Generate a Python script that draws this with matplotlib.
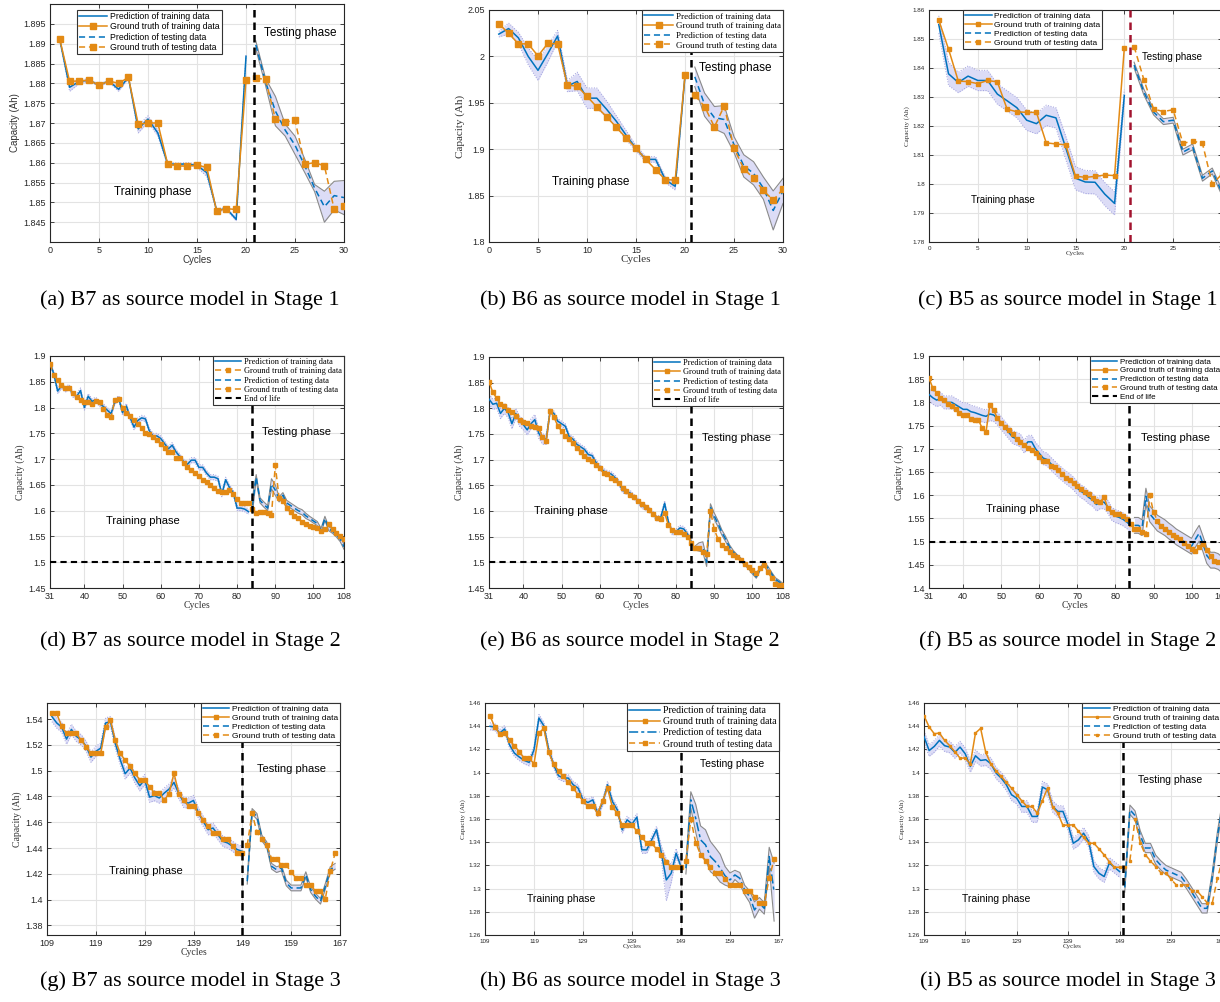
import numpy as np
import matplotlib
matplotlib.use('Agg')
import matplotlib.pyplot as plt
from matplotlib.ticker import FixedLocator, FuncFormatter

# ---------------- data ----------------
# Stage 1 : cycles 1..20 train, 21..30 test
s1_train_cycles = np.arange(1, 21)
s1_test_cycles = np.arange(21, 31)

a_gt_train = [1.8911, 1.8805, 1.8806, 1.8808, 1.8795, 1.8806, 1.8800, 1.8815, 1.8697, 1.8700,
              1.8700, 1.8597, 1.8592, 1.8591, 1.8594, 1.8588, 1.8478, 1.8484, 1.8482, 1.8808]
a_pred_train = [1.8910, 1.8790, 1.8805, 1.8808, 1.8795, 1.8806, 1.8785, 1.8815, 1.8685, 1.8710,
                1.8675, 1.8597, 1.8596, 1.8597, 1.8593, 1.8575, 1.8480, 1.8484, 1.8457, 1.8868]
a_hw_train = [0.0003, 0.0010, 0.0005, 0.0003, 0.0003, 0.0003, 0.0005, 0.0003, 0.0010, 0.0008,
              0.0008, 0.0004, 0.0003, 0.0003, 0.0005, 0.0010, 0.0004, 0.0003, 0.0004, 0.0004]
a_gt_test = [1.8813, 1.8810, 1.8710, 1.8702, 1.8707, 1.8596, 1.8600, 1.8592, 1.8482, 1.8492]
a_pred_test = [1.8897, 1.8803, 1.8730, 1.8682, 1.8644, 1.8592, 1.8536, 1.8489, 1.8517, 1.8512]
a_hw_test = [0.0010, 0.0009, 0.0037, 0.0015, 0.0023, 0.0017, 0.0009, 0.0039, 0.0036, 0.0043]

b_gt_train = [2.035, 2.025, 2.0135, 2.0135, 2.0005, 2.014, 2.0135, 1.969, 1.968, 1.957,
              1.9455, 1.935, 1.9235, 1.912, 1.901, 1.889, 1.878, 1.867, 1.867, 1.980]
b_pred_train = [2.024, 2.030, 2.020, 2.000, 1.985, 2.003, 2.022, 1.968, 1.973, 1.955,
                1.955, 1.943, 1.930, 1.915, 1.901, 1.889, 1.889, 1.867, 1.860, 1.979]
b_hw_train = [0.003, 0.006, 0.006, 0.009, 0.011, 0.009, 0.006, 0.006, 0.010, 0.011,
              0.011, 0.009, 0.006, 0.005, 0.003, 0.003, 0.003, 0.003, 0.004, 0.002]
b_gt_test = [1.958, 1.946, 1.924, 1.9465, 1.901, 1.879, 1.8685, 1.8555, 1.845, 1.857]
b_pred_test = [1.978, 1.948, 1.934, 1.932, 1.905, 1.882, 1.874, 1.858, 1.834, 1.855]
b_hw_test = [0.0105, 0.0125, 0.012, 0.015, 0.0085, 0.012, 0.0125, 0.012, 0.021, 0.0135]

c_gt_train = [1.8565, 1.8465, 1.8355, 1.8353, 1.8346, 1.8357, 1.8352, 1.8258, 1.8249, 1.8247,
              1.8247, 1.8142, 1.8138, 1.8135, 1.8027, 1.8023, 1.8026, 1.8031, 1.8029, 1.8470]
c_pred_train = [1.8550, 1.8380, 1.8350, 1.8372, 1.8357, 1.8357, 1.8310, 1.8287, 1.8263, 1.8220,
                1.8208, 1.8237, 1.8228, 1.8125, 1.8020, 1.8007, 1.8006, 1.7965, 1.7933, 1.8305]
c_hw_train = [0.003, 0.004, 0.0035, 0.0035, 0.0035, 0.0035, 0.0035, 0.0035, 0.0035, 0.0035,
              0.0035, 0.0035, 0.0035, 0.004, 0.004, 0.004, 0.004, 0.004, 0.004, 0.002]
c_gt_test = [1.8474, 1.8360, 1.8258, 1.8250, 1.8256, 1.8140, 1.8148, 1.8140, 1.8000, 1.8034]
c_pred_test = [1.8410, 1.8317, 1.8248, 1.8215, 1.8220, 1.8110, 1.8128, 1.8020, 1.8045, 1.7970]
c_hw_test = 0.001

# Stage 2
d_train_cycles = np.arange(31, 84)
d_test_cycles = np.arange(84, 109)
d_gt_train = [1.885, 1.864, 1.853, 1.843, 1.838, 1.838, 1.829, 1.820, 1.815, 1.810,
              1.811, 1.806, 1.813, 1.810, 1.798, 1.786, 1.781, 1.815, 1.816, 1.800,
              1.790, 1.784, 1.776, 1.768, 1.760, 1.750, 1.749, 1.743, 1.738, 1.729,
              1.722, 1.714, 1.714, 1.703, 1.703, 1.693, 1.685, 1.679, 1.673, 1.667,
              1.660, 1.655, 1.649, 1.643, 1.639, 1.636, 1.637, 1.640, 1.632, 1.622,
              1.615, 1.615, 1.615]
d_pred_train = [1.887, 1.865, 1.832, 1.842, 1.835, 1.840, 1.825, 1.822, 1.833, 1.800,
                1.822, 1.812, 1.815, 1.807, 1.802, 1.795, 1.788, 1.812, 1.818, 1.790,
                1.803, 1.780, 1.762, 1.775, 1.780, 1.778, 1.755, 1.745, 1.745, 1.740,
                1.730, 1.720, 1.727, 1.714, 1.705, 1.695, 1.690, 1.698, 1.698, 1.684,
                1.684, 1.673, 1.665, 1.665, 1.662, 1.632, 1.660, 1.645, 1.635, 1.605,
                1.605, 1.603, 1.598]
d_hw_train = 0.005
d_gt_test = [1.603, 1.596, 1.597, 1.597, 1.596, 1.591, 1.688, 1.625, 1.619, 1.605,
             1.597, 1.590, 1.585, 1.578, 1.575, 1.570, 1.569, 1.566, 1.560, 1.565,
             1.574, 1.564, 1.556, 1.550, 1.545]
d_pred_test = [1.610, 1.665, 1.620, 1.612, 1.605, 1.652, 1.640, 1.622, 1.630, 1.615,
               1.610, 1.605, 1.600, 1.597, 1.590, 1.585, 1.580, 1.575, 1.562, 1.585,
               1.565, 1.560, 1.553, 1.545, 1.530]
d_hw_test = [0.015, 0.005, 0.005, 0.005, 0.005, 0.010, 0.010, 0.005, 0.005, 0.005,
             0.005, 0.005, 0.005, 0.005, 0.005, 0.004, 0.004, 0.004, 0.004, 0.004,
             0.004, 0.004, 0.004, 0.005, 0.005]

ef_train_cycles = np.arange(31, 85)
ef_test_cycles = np.arange(85, 109)
ef_gt_train = [1.852, 1.831, 1.820, 1.809, 1.805, 1.797, 1.792, 1.785, 1.777, 1.773,
               1.772, 1.765, 1.763, 1.762, 1.744, 1.737, 1.795, 1.783, 1.766, 1.756,
               1.747, 1.740, 1.732, 1.722, 1.715, 1.708, 1.702, 1.698, 1.690, 1.683,
               1.674, 1.673, 1.664, 1.660, 1.654, 1.645, 1.638, 1.632, 1.627, 1.620,
               1.613, 1.607, 1.602, 1.594, 1.587, 1.585, 1.596, 1.572, 1.563, 1.560,
               1.560, 1.555, 1.549, 1.538]
ef_gt_test = [1.528, 1.527, 1.520, 1.516, 1.600, 1.564, 1.545, 1.533, 1.527, 1.521,
              1.515, 1.510, 1.505, 1.497, 1.490, 1.485, 1.479, 1.488, 1.495, 1.481,
              1.470, 1.458, 1.455, 1.456]

e_pred_train = [1.818, 1.808, 1.810, 1.790, 1.800, 1.792, 1.770, 1.790, 1.775, 1.768,
                1.758, 1.770, 1.778, 1.752, 1.740, 1.740, 1.795, 1.790, 1.775, 1.770,
                1.765, 1.745, 1.740, 1.730, 1.725, 1.720, 1.710, 1.708, 1.695, 1.685,
                1.678, 1.674, 1.672, 1.665, 1.655, 1.640, 1.638, 1.635, 1.627, 1.620,
                1.610, 1.607, 1.602, 1.594, 1.585, 1.588, 1.615, 1.578, 1.558, 1.560,
                1.567, 1.565, 1.555, 1.540]
e_hw_train = [0.010] * 16 + [0.005] * 38
e_pred_test = [1.528, 1.530, 1.530, 1.500, 1.608, 1.590, 1.575, 1.558, 1.545, 1.530,
               1.520, 1.512, 1.505, 1.497, 1.490, 1.480, 1.472, 1.487, 1.497, 1.490,
               1.478, 1.467, 1.462, 1.456]
e_hw_test = [0.004, 0.008, 0.010, 0.008, 0.006, 0.006, 0.006, 0.005, 0.005, 0.004,
             0.003, 0.003, 0.003, 0.003, 0.003, 0.003, 0.003, 0.003, 0.003, 0.003,
             0.003, 0.003, 0.003, 0.003]

f_pred_train = [1.817, 1.810, 1.805, 1.808, 1.800, 1.800, 1.800, 1.795, 1.790, 1.785,
                1.785, 1.780, 1.778, 1.775, 1.772, 1.770, 1.775, 1.773, 1.765, 1.755,
                1.745, 1.735, 1.725, 1.722, 1.718, 1.705, 1.715, 1.715, 1.700, 1.690,
                1.680, 1.677, 1.668, 1.660, 1.652, 1.645, 1.638, 1.632, 1.625, 1.615,
                1.608, 1.603, 1.595, 1.590, 1.580, 1.585, 1.585, 1.575, 1.560, 1.555,
                1.552, 1.548, 1.542, 1.535]
f_hw_train = 0.014
f_pred_test = [1.535, 1.535, 1.530, 1.598, 1.560, 1.550, 1.540, 1.535, 1.530, 1.523,
               1.517, 1.510, 1.505, 1.500, 1.495, 1.490, 1.505, 1.518, 1.495, 1.470,
               1.460, 1.460, 1.457, 1.450]
f_hw_test = 0.017

# Stage 3
s3_train_cycles = np.arange(110, 150)
s3_test_cycles = np.arange(150, 169)
g_gt_train = [1.5447, 1.5444, 1.5343, 1.5289, 1.5291, 1.5289, 1.5237, 1.5186, 1.5134, 1.5136,
              1.5136, 1.5338, 1.5390, 1.5235, 1.5134, 1.5080, 1.5033, 1.4979, 1.4930, 1.4930,
              1.4875, 1.4829, 1.4829, 1.4772, 1.4821, 1.4981, 1.4821, 1.4772, 1.4723, 1.4723,
              1.4671, 1.4620, 1.4568, 1.4516, 1.4516, 1.4467, 1.4467, 1.4413, 1.4364, 1.4364]
g_gt_test = [1.4421, 1.4671, 1.4521, 1.4470, 1.4421, 1.4317, 1.4317, 1.4266, 1.4266, 1.4214,
             1.4165, 1.4165, 1.4113, 1.4113, 1.4064, 1.4064, 1.4007, 1.4219, 1.4361]
g_pred_train = [1.5420, 1.5370, 1.5338, 1.5245, 1.5320, 1.5266, 1.5240, 1.5190, 1.5105, 1.5150,
                1.5175, 1.5370, 1.5380, 1.5210, 1.5085, 1.4976, 1.5020, 1.4943, 1.4883, 1.4930,
                1.4795, 1.4806, 1.4788, 1.4826, 1.4857, 1.4909, 1.4821, 1.4754, 1.4749, 1.4769,
                1.4671, 1.4607, 1.4542, 1.4555, 1.4503, 1.4452, 1.4439, 1.4413, 1.4387, 1.4374]
g_pred_test = [1.4142, 1.4684, 1.4645, 1.4477, 1.4426, 1.4258, 1.4232, 1.4245, 1.4129, 1.4090,
               1.4090, 1.4090, 1.4193, 1.4077, 1.4025, 1.3987, 1.4103, 1.4232, 1.4258]
g_hw_train = 0.004
g_hw_test = 0.0022

hi_gt_train = [1.4491, 1.4393, 1.4335, 1.4341, 1.4278, 1.4232, 1.4180, 1.4125, 1.4125, 1.4076,
               1.4341, 1.4381, 1.4174, 1.4073, 1.4016, 1.3967, 1.3915, 1.3866, 1.3809, 1.3757,
               1.3708, 1.3708, 1.3650, 1.3757, 1.3866, 1.3702, 1.3650, 1.3544, 1.3549, 1.3549,
               1.3495, 1.3443, 1.3391, 1.3391, 1.3342, 1.3290, 1.3233, 1.3184, 1.3184, 1.3184]
hi_gt_test = [1.3242, 1.3599, 1.3397, 1.3291, 1.3239, 1.3190, 1.3138, 1.3138, 1.3080, 1.3032,
              1.3032, 1.3032, 1.2983, 1.2983, 1.2931, 1.2879, 1.2873, 1.3089, 1.3253]

h_pred_train = [1.4399, 1.4393, 1.4341, 1.4376, 1.4240, 1.4168, 1.4134, 1.4105, 1.4088, 1.4197,
                1.4471, 1.4404, 1.4197, 1.4068, 1.3973, 1.3953, 1.3953, 1.3895, 1.3866, 1.3765,
                1.3742, 1.3765, 1.3645, 1.3742, 1.3895, 1.3751, 1.3679, 1.3506, 1.3593, 1.3558,
                1.3616, 1.3334, 1.3334, 1.3420, 1.3507, 1.3305, 1.3075, 1.3132, 1.3305, 1.3190]
h_hw_train = [0.003] * 35 + [0.006, 0.018, 0.008, 0.004, 0.003]
h_pred_test = [1.3176, 1.3765, 1.3607, 1.3420, 1.3377, 1.3276, 1.3233, 1.3176, 1.3110, 1.3075,
               1.3118, 1.3089, 1.2988, 1.2931, 1.2816, 1.2873, 1.2830, 1.3276, 1.2970]
h_hw_test = [0.005, 0.007, 0.012, 0.012, 0.013, 0.013, 0.012, 0.012, 0.008, 0.006,
             0.004, 0.005, 0.004, 0.005, 0.007, 0.005, 0.005, 0.008, 0.025]

i_train_cycles = np.arange(110, 149)
i_test_cycles = np.arange(149, 169)
i_pred_train = [1.4310, 1.4190, 1.4226, 1.4278, 1.4232, 1.4220, 1.4174, 1.4220, 1.4163, 1.4053,
                1.4145, 1.4105, 1.4111, 1.4076, 1.3996, 1.3953, 1.3895, 1.3809, 1.3780, 1.3708,
                1.3708, 1.3622, 1.3622, 1.3875, 1.3852, 1.3708, 1.3665, 1.3665, 1.3550, 1.3391,
                1.3420, 1.3478, 1.3406, 1.3190, 1.3132, 1.3104, 1.3219, 1.3184, 1.3147]
i_pred_test = [1.3010, 1.3680, 1.3630, 1.3460, 1.3350, 1.3350, 1.3250, 1.3200, 1.3160, 1.3140,
               1.3120, 1.3100, 1.3040, 1.2970, 1.2900, 1.2830, 1.2830, 1.3100, 1.3450, 1.3720]
i_hw_train = 0.005
i_hw_test = 0.004

s1_xticks = [0, 5, 10, 15, 20, 25, 30]
s2_xticks = [31, 40, 50, 60, 70, 80, 90, 100, 108]
s3_xtick_labels = ['109', '119', '129', '139', '149', '159', '167']

captions = ['(a) B7 as source model in Stage 1', '(b) B6 as source model in Stage 1',
            '(c) B5 as source model in Stage 1', '(d) B7 as source model in Stage 2',
            '(e) B6 as source model in Stage 2', '(f) B5 as source model in Stage 2',
            '(g) B7 as source model in Stage 3', '(h) B6 as source model in Stage 3',
            '(i) B5 as source model in Stage 3']

legend_labels = ['Prediction of training data', 'Ground truth of training data',
                 'Prediction of testing data', 'Ground truth of testing data', 'End of life']

# ---------------- styling ----------------
BLUE = '#0072BD'
ORANGE = '#E38A14'
BAND = '#DCDCF6'
BANDEDGE = '#9C9CDC'
SANS = 'Liberation Sans'
SERIF = 'Liberation Serif'

W, H = 1220, 1002
fig = plt.figure(figsize=(W / 100, H / 100), dpi=100)


def fmt(v, pos):
    return ('%.4f' % v).rstrip('0').rstrip('.')


def add_ax(l, r, t, b):
    return fig.add_axes([l / W, 1 - b / H, (r - l) / W, (b - t) / H])


def draw(p):
    ax = add_ax(*p['box'])
    ax.set_xlim(*p['xlim'])
    ax.set_ylim(*p['ylim'])
    ct, cs = np.asarray(p['ctr']), np.asarray(p['cte'])
    gct = np.asarray(p.get('gctr', ct))
    gcs = np.asarray(p.get('gcte', cs))
    ptr, pte = np.asarray(p['ptr']), np.asarray(p['pte'])
    htr = np.broadcast_to(np.asarray(p['htr'], float), ptr.shape)
    hte = np.broadcast_to(np.asarray(p['hte'], float), pte.shape)
    # bands
    ax.fill_between(ct, ptr - htr, ptr + htr, color=BAND, lw=0, zorder=1)
    ax.plot(ct, ptr - htr, ':', color=BANDEDGE, lw=0.7, zorder=1.5)
    ax.plot(ct, ptr + htr, ':', color=BANDEDGE, lw=0.7, zorder=1.5)
    ax.fill_between(cs, pte - hte, pte + hte, color=BAND, lw=0, zorder=1)
    ax.plot(cs, pte - hte, '-', color='#8a8a8a', lw=0.8, zorder=1.5)
    ax.plot(cs, pte + hte, '-', color='#8a8a8a', lw=0.8, zorder=1.5)
    ms = p['ms']
    h1, = ax.plot(ct, ptr, '-', color=BLUE, lw=1.1, zorder=3)
    h3, = ax.plot(cs, pte, ls=p.get('pte_ls', (0, (4, 2.5))), color=BLUE, lw=1.1, zorder=3)
    h2, = ax.plot(gct, p['gtr'], ls=p.get('gtr_ls', '-'), color=ORANGE, lw=1.1,
                  marker='s', ms=ms, zorder=4)
    h4, = ax.plot(gcs, p['gte'], ls=(0, (4, 2.5)), color=ORANGE, lw=1.1,
                  marker='s', ms=ms, zorder=4)
    handles = [h1, h2, h3, h4]
    ax.axvline(p['split'], color=p.get('vcol', 'k'), ls=(0, (3, 2)), lw=1.8, zorder=5)
    if p.get('eol') is not None:
        h5 = ax.axhline(p['eol'], color='k', ls=(0, (3, 2)), lw=1.5, zorder=5)
        handles.append(h5)
    # ticks & grid
    ax.xaxis.set_major_locator(FixedLocator(p['xticks']))
    if 'xticklabels' in p:
        ax.set_xticklabels(p['xticklabels'])
    ax.yaxis.set_major_locator(FixedLocator(p['yticks']))
    ax.yaxis.set_major_formatter(FuncFormatter(fmt))
    ax.grid(True, color='#e3e3e3', lw=0.8, zorder=0)
    ax.set_axisbelow(True)
    ax.tick_params(direction='in', top=True, right=True, length=3, width=0.6,
                   labelsize=p['tfs'], colors='#262626', pad=3)
    for lab in ax.get_xticklabels() + ax.get_yticklabels():
        lab.set_fontfamily(SANS)
    for s in ax.spines.values():
        s.set_color('#262626')
        s.set_linewidth(0.8)
    ax.set_xlabel('Cycles', family=p['lfam'], fontsize=p['lfs'], color='#333333', labelpad=0)
    ax.set_ylabel('Capacity (Ah)', family=p['lfam'], fontsize=p['lfs'], color='#333333', labelpad=2)
    # phase texts
    ax.text(*p['test_txt'], 'Testing phase', family=SANS, fontsize=p['pfs'], va='center', ha='left', zorder=6)
    ax.text(*p['train_txt'], 'Training phase', family=SANS, fontsize=p['pfs'], va='center', ha='left', zorder=6)
    leg = ax.legend(handles, legend_labels[:len(handles)], loc=p['lloc'], bbox_to_anchor=p['lanchor'],
                    borderaxespad=0, fancybox=False, framealpha=1, edgecolor='#333333',
                    prop={'family': p['legfam'], 'size': p['legfs']}, handlelength=p.get('hl', 3.2),
                    handletextpad=0.3, labelspacing=0.15, borderpad=0.25)
    leg.get_frame().set_linewidth(0.8)
    leg.set_zorder(10)
    return ax


s1_common = dict(ctr=s1_train_cycles, cte=s1_test_cycles, xlim=(0, 30), xticks=s1_xticks)
s2_common = dict(xlim=(31, 108), xticks=s2_xticks, eol=1.5, lloc='upper right', lanchor=(1, 1))

panels = [
    dict(s1_common, box=(50, 344, 4, 242), ylim=(1.84, 1.9), yticks=np.arange(1.845, 1.8951, 0.005),
         gtr=a_gt_train, ptr=a_pred_train, htr=a_hw_train, gte=a_gt_test, pte=a_pred_test, hte=a_hw_test,
         split=20.8, ms=4.5, tfs=6.5, lfam=SANS, lfs=7, pfs=8.5, legfam=SANS, legfs=6.3,
         lloc='upper left', lanchor=(0.092, 0.975),
         test_txt=(21.8, 1.8928), train_txt=(6.5, 1.8527)),
    dict(s1_common, box=(489, 783, 10, 242), ylim=(1.8, 2.05), yticks=np.arange(1.8, 2.051, 0.05),
         gtr=b_gt_train, ptr=b_pred_train, htr=b_hw_train, gte=b_gt_test, pte=b_pred_test, hte=b_hw_test,
         split=20.6, ms=4.5, tfs=6.5, lfam=SERIF, lfs=8, pfs=8.5, legfam=SERIF, legfs=6.5,
         lloc='upper right', lanchor=(1, 1),
         test_txt=(21.4, 1.987), train_txt=(6.4, 1.865)),
    dict(s1_common, box=(929, 1222, 10, 242), ylim=(1.78, 1.86), yticks=np.arange(1.78, 1.8601, 0.01),
         gtr=c_gt_train, ptr=c_pred_train, htr=c_hw_train, gte=c_gt_test, pte=c_pred_test, hte=c_hw_test,
         split=20.6, vcol='#A2142F', ms=3.2, tfs=4.5, lfam=SERIF, lfs=5, pfs=7, legfam=SANS, legfs=6,
         lloc='upper left', lanchor=(0.116, 1.0),
         test_txt=(21.8, 1.8439), train_txt=(4.3, 1.7945)),
    dict(s2_common, box=(50, 344, 356, 588), ylim=(1.45, 1.9), yticks=np.arange(1.45, 1.901, 0.05),
         ctr=d_train_cycles, cte=d_test_cycles,
         gtr=d_gt_train, ptr=d_pred_train, htr=d_hw_train, gte=d_gt_test, pte=d_pred_test, hte=d_hw_test,
         gtr_ls=(0, (4, 2.5)), split=83.8, ms=3.2, tfs=6.5, lfam=SERIF, lfs=7, pfs=8, legfam=SERIF, legfs=6,
         test_txt=(86.4, 1.752), train_txt=(45.7, 1.58)),
    dict(s2_common, box=(489, 783, 357, 588), ylim=(1.45, 1.9), yticks=np.arange(1.45, 1.901, 0.05),
         ctr=ef_train_cycles, cte=ef_test_cycles,
         gtr=ef_gt_train, ptr=e_pred_train, htr=e_hw_train, gte=ef_gt_test, pte=e_pred_test, hte=e_hw_test,
         split=84, ms=3.2, tfs=6.5, lfam=SERIF, lfs=7, pfs=8, legfam=SERIF, legfs=6,
         test_txt=(86.9, 1.742), train_txt=(42.8, 1.60)),
    dict(s2_common, box=(929, 1222, 356, 588), ylim=(1.4, 1.9), yticks=np.arange(1.4, 1.901, 0.05),
         ctr=ef_train_cycles, cte=ef_test_cycles,
         gtr=ef_gt_train, ptr=f_pred_train, htr=f_hw_train, gte=ef_gt_test, pte=f_pred_test, hte=f_hw_test,
         split=83.6, ms=3.2, tfs=6.5, lfam=SERIF, lfs=7, pfs=8, legfam=SANS, legfs=5.8,
         test_txt=(86.6, 1.723), train_txt=(45.9, 1.571)),
    dict(box=(47, 340, 703, 935), xlim=(109, 169), ylim=(1.3725, 1.5525), yticks=np.arange(1.38, 1.5401, 0.02),
         xticks=[109, 119, 129, 139, 149, 159, 169], xticklabels=s3_xtick_labels,
         ctr=s3_train_cycles, cte=s3_test_cycles,
         gtr=g_gt_train, ptr=g_pred_train, htr=g_hw_train, gte=g_gt_test, pte=g_pred_test, hte=g_hw_test,
         split=149, ms=3.2, tfs=6.5, lfam=SERIF, lfs=7, pfs=8, legfam=SANS, legfs=6,
         lloc='upper right', lanchor=(1, 1),
         test_txt=(152, 1.5012), train_txt=(121.6, 1.4224)),
    dict(box=(485, 779, 703, 935), xlim=(109, 169), ylim=(1.26, 1.46), yticks=np.arange(1.26, 1.4601, 0.02),
         xticks=[109, 119, 129, 139, 149, 159, 169], xticklabels=s3_xtick_labels,
         ctr=s3_train_cycles, cte=s3_test_cycles,
         gtr=hi_gt_train, ptr=h_pred_train, htr=h_hw_train, gte=hi_gt_test, pte=h_pred_test, hte=h_hw_test,
         pte_ls=(0, (6, 2, 2, 2)), split=149, ms=3, tfs=4.5, lfam=SERIF, lfs=5, pfs=7.5,
         legfam=SERIF, legfs=7, lloc='upper right', lanchor=(1, 1),
         test_txt=(152.8, 1.4076), train_txt=(117.6, 1.2908)),
    dict(box=(924, 1221, 703, 935), xlim=(110, 167.7), ylim=(1.26, 1.46), yticks=np.arange(1.26, 1.4601, 0.02),
         xticks=[110, 118, 128, 138, 148, 158, 167.7], xticklabels=s3_xtick_labels,
         ctr=i_train_cycles, cte=i_test_cycles, gctr=s3_train_cycles, gcte=s3_test_cycles,
         gtr=hi_gt_train, ptr=i_pred_train, htr=i_hw_train, gte=hi_gt_test, pte=i_pred_test, hte=i_hw_test,
         split=148.6, ms=2, tfs=4.5, lfam=SERIF, lfs=5, pfs=7.5, legfam=SANS, legfs=6,
         lloc='upper right', lanchor=(1, 1),
         test_txt=(151.6, 1.3932), train_txt=(117.3, 1.2908)),
]

for p in panels:
    draw(p)

cap_x = [190, 630, 1068]
cap_y = [300, 641, 981]
for k, cap in enumerate(captions):
    fig.text(cap_x[k % 3] / W, 1 - cap_y[k // 3] / H, cap, ha='center', va='center',
             family=SERIF, fontsize=16)

fig.savefig('out.png', dpi=100)
